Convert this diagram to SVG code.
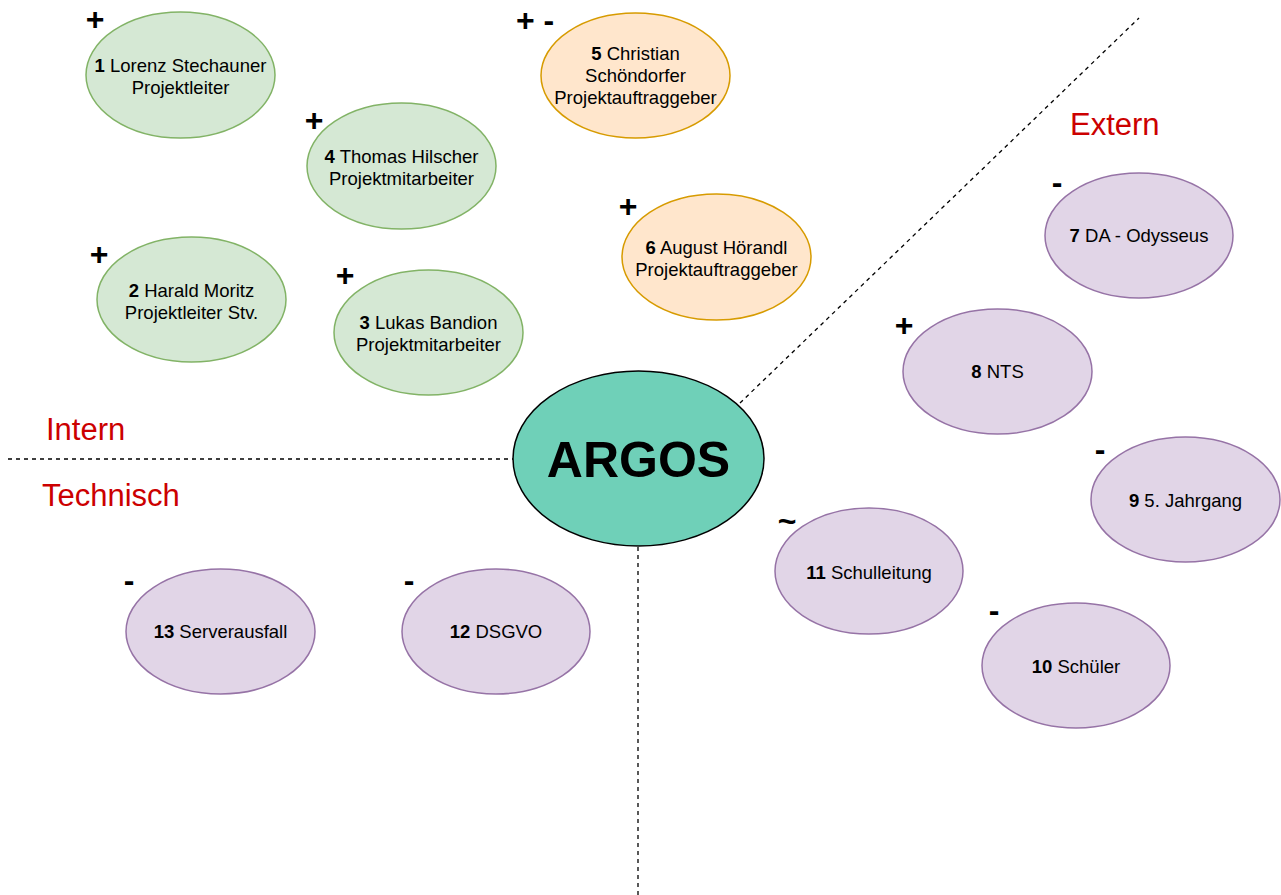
<svg xmlns="http://www.w3.org/2000/svg" width="1281" height="895" viewBox="0 0 1281 895">
<style>
text{font-family:"Liberation Sans",Arial,sans-serif;fill:#000}
.g{fill:#d5e8d4;stroke:#82b366;stroke-width:1.5}
.o{fill:#ffe6cc;stroke:#d79b00;stroke-width:1.5}
.p{fill:#e1d5e7;stroke:#9673a6;stroke-width:1.5}
.t{font-size:18.5px;text-anchor:middle}
.s{font-size:32px;text-anchor:middle;font-weight:bold}
.r{font-size:31px;fill:#cc0000}
.d{stroke:#000;stroke-width:1.3;stroke-dasharray:4 4;fill:none}
.b{font-weight:bold}
</style>
<rect width="1281" height="895" fill="#fff"/>
<g id="connectors">
<line class="d" x1="8" y1="459" x2="513" y2="459"/>
<line class="d" x1="740" y1="403" x2="1139" y2="18"/>
<line class="d" x1="638" y1="547" x2="638" y2="895"/>
</g>
<g id="labels">
<text class="r" x="46" y="440">Intern</text>
<text class="r" x="42" y="506">Technisch</text>
<text class="r" x="1070" y="135">Extern</text>
</g>
<g id="argos">
<ellipse cx="638.5" cy="458.5" rx="125.5" ry="87.5" fill="#6fd0b8" stroke="#000" stroke-width="1.5"/>
<text x="638.5" y="477" font-size="50" font-weight="bold" text-anchor="middle">ARGOS</text>
</g>
<g id="n1">
<ellipse class="g" cx="180.5" cy="75" rx="94.5" ry="63"/>
<text class="t" x="180.5" y="72"><tspan class="b">1</tspan> Lorenz Stechauner</text>
<text class="t" x="180.5" y="94">Projektleiter</text>
<text class="s" x="95" y="30">+</text>
</g>
<g id="n4">
<ellipse class="g" cx="401.5" cy="166" rx="94.5" ry="63"/>
<text class="t" x="401.5" y="163"><tspan class="b">4</tspan> Thomas Hilscher</text>
<text class="t" x="401.5" y="185">Projektmitarbeiter</text>
<text class="s" x="314" y="131">+</text>
</g>
<g id="n2">
<ellipse class="g" cx="191.5" cy="299.5" rx="94.5" ry="62.5"/>
<text class="t" x="191.5" y="297"><tspan class="b">2</tspan> Harald Moritz</text>
<text class="t" x="191.5" y="319">Projektleiter Stv.</text>
<text class="s" x="99" y="265">+</text>
</g>
<g id="n3">
<ellipse class="g" cx="428.5" cy="332.5" rx="94.5" ry="62.5"/>
<text class="t" x="428.5" y="329"><tspan class="b">3</tspan> Lukas Bandion</text>
<text class="t" x="428.5" y="351">Projektmitarbeiter</text>
<text class="s" x="345" y="286">+</text>
</g>
<g id="n5">
<ellipse class="o" cx="635.5" cy="75.5" rx="94.5" ry="62.5"/>
<text class="t" x="635.5" y="60"><tspan class="b">5</tspan> Christian</text>
<text class="t" x="635.5" y="82">Schöndorfer</text>
<text class="t" x="635.5" y="104">Projektauftraggeber</text>
<text class="s" x="535" y="31">+ -</text>
</g>
<g id="n6">
<ellipse class="o" cx="716.5" cy="257" rx="94.5" ry="63"/>
<text class="t" x="716.5" y="254"><tspan class="b">6</tspan> August Hörandl</text>
<text class="t" x="716.5" y="276">Projektauftraggeber</text>
<text class="s" x="628" y="217">+</text>
</g>
<g id="n7">
<ellipse class="p" cx="1139" cy="235.5" rx="94" ry="62.5"/>
<text class="t" x="1139" y="242"><tspan class="b">7</tspan> DA - Odysseus</text>
<text class="s" x="1057" y="193">-</text>
</g>
<g id="n8">
<ellipse class="p" cx="997.5" cy="371.5" rx="94.5" ry="62.5"/>
<text class="t" x="997.5" y="378"><tspan class="b">8</tspan> NTS</text>
<text class="s" x="904" y="336">+</text>
</g>
<g id="n9">
<ellipse class="p" cx="1185.5" cy="499.5" rx="94.5" ry="62.5"/>
<text class="t" x="1185.5" y="507"><tspan class="b">9</tspan> 5. Jahrgang</text>
<text class="s" x="1100" y="460">-</text>
</g>
<g id="n11">
<ellipse class="p" cx="869" cy="571" rx="94" ry="63"/>
<text class="t" x="869" y="579"><tspan class="b">11</tspan> Schulleitung</text>
<text class="s" x="787" y="532">~</text>
</g>
<g id="n10">
<ellipse class="p" cx="1076" cy="665.5" rx="94" ry="62.5"/>
<text class="t" x="1076" y="673"><tspan class="b">10</tspan> Schüler</text>
<text class="s" x="994" y="621">-</text>
</g>
<g id="n13">
<ellipse class="p" cx="220.5" cy="631.5" rx="94.5" ry="62.5"/>
<text class="t" x="220.5" y="638"><tspan class="b">13</tspan> Serverausfall</text>
<text class="s" x="129" y="591">-</text>
</g>
<g id="n12">
<ellipse class="p" cx="496" cy="631.5" rx="94" ry="62.5"/>
<text class="t" x="496" y="638"><tspan class="b">12</tspan> DSGVO</text>
<text class="s" x="409" y="591">-</text>
</g>
</svg>
